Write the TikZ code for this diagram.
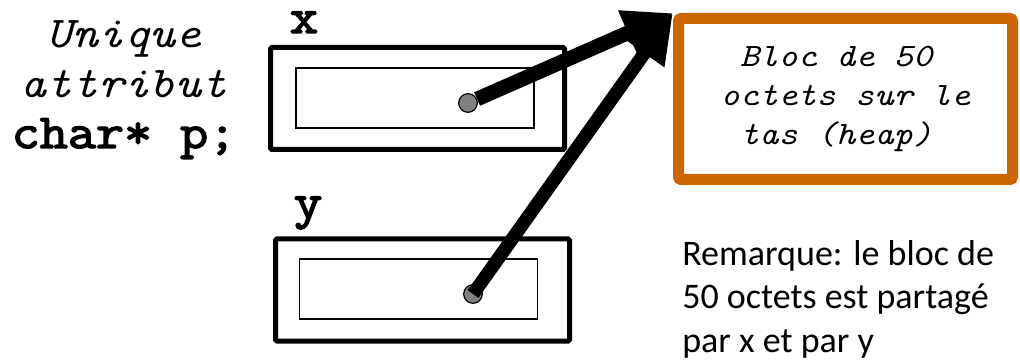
\documentclass[tikz,border=0pt]{standalone}
\usepackage{fontspec}
\setmonofont{Latin Modern Mono}[FakeStretch=1.12, BoldFont={Latin Modern Mono}, BoldFeatures={FakeBold=3}]
\newfontfamily\remarkfont{Carlito}
\usetikzlibrary{arrows.meta}
\definecolor{heaporange}{RGB}{204,102,0}
\definecolor{dotgray}{RGB}{128,128,128}

\begin{document}
\begin{tikzpicture}[
    x=0.75pt, y=-0.75pt,
    varbox/.style={draw, line width=3.75pt, rounded corners=1pt, minimum width=220.5pt, minimum height=76.5pt, inner sep=0pt},
    slotbox/.style={draw, line width=1.1pt, minimum width=178.5pt, minimum height=45pt, inner sep=0pt},
    ptrdot/.style={circle, draw, fill=dotgray, line width=0.9pt, minimum size=14pt, inner sep=0pt},
    heapbox/.style={draw=heaporange, line width=8.25pt, rounded corners=2pt, fill=white, minimum width=250.5pt, minimum height=120.75pt, align=center, font=\ttfamily\itshape\fontsize{24.5}{29}\selectfont},
    varname/.style={font=\ttfamily\bfseries\fontsize{37}{40}\selectfont, inner sep=0pt, anchor=base, text height=0.45em},
    attrnote/.style={font=\ttfamily\fontsize{33}{37.5}\selectfont, align=center, inner sep=0pt, anchor=base},
    remark/.style={font=\remarkfont\fontsize{27}{32.4}\selectfont, align=left, inner sep=0pt, anchor=base west},
    ptredge/.style={line width=11pt, -{Triangle[length=37pt,width=34pt]}}
]
\useasboundingbox (0,0) rectangle (1020,363);
% attribute description (anchored on its last line)
\node[attrnote] (attr) at (124,148) {\itshape Unique\\\itshape attribut\\\bfseries\fontsize{36.5}{37.5}\selectfont char* p;};
% the two objects
\node[varbox] (xbox) at (417.5,98.5) {};
\node[slotbox] (xslot) at (415,98) {};
\node[varname] (xname) at (304,33) {x};
\node[ptrdot] (xdot) at (468,103) {};
\node[varbox] (ybox) at (422.5,290) {};
\node[slotbox] (yslot) at (418.5,289) {};
\node[varname] (yname) at (308,218) {y};
\node[ptrdot] (ydot) at (473,294) {};
% heap block
\node[heapbox] (heap) at (845.5,99) {Bloc de 50\hspace*{14pt}\\octets sur le\hspace*{14pt}\\tas (heap)\hspace*{14pt}};
\node[remark] (note) at (682,352) {Remarque: le bloc de\\50 octets est partagé\\par x et par y};
% pointers
\draw[ptredge] (xdot) -- (heap.north west);
\draw[ptredge, line width=10pt] (ydot.center) -- (heap.north west);
\end{tikzpicture}
\end{document}
